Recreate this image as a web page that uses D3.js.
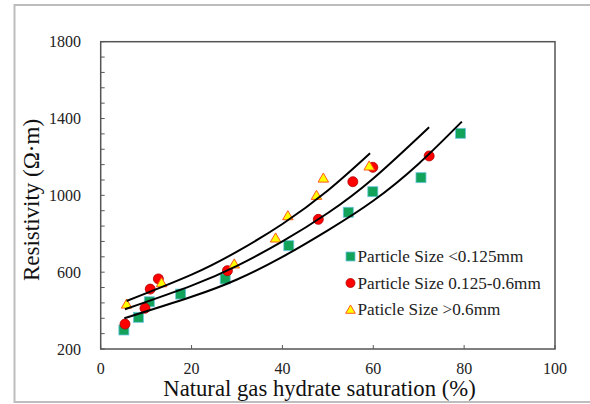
<!DOCTYPE html>
<html><head><meta charset="utf-8">
<script src="https://cdn.jsdelivr.net/npm/d3@7/dist/d3.min.js"></script>
<style>body{margin:0;background:#fff;}text{font-family:"Liberation Serif","Times New Roman","DejaVu Serif",serif;}</style>
</head><body>
<svg id="c" width="590" height="404"></svg>
<script>
// ---- data ----
const seriesNames = ["Particle Size <0.125mm", "Particle Size 0.125-0.6mm", "Paticle Size >0.6mm"];
const fineX   = [5.1, 8.3, 10.7, 17.6, 27.4, 41.4, 54.5, 59.9, 70.5, 79.2];
const fineY   = [299, 365, 446, 486, 565, 738, 912, 1019, 1092, 1323];
const mediumX = [5.35, 9.75, 10.9, 12.7, 27.9, 47.9, 55.5, 59.9, 72.3];
const mediumY = [330, 412, 512, 565, 608, 875, 1071, 1146, 1205];
const coarseX = [5.7, 13.4, 29.4, 38.5, 41.2, 47.5, 49.0, 59.1];
const coarseY = [434, 545, 643, 778, 894, 1000, 1090, 1153];
// trend lines, points
const trendFineX   = [5.2, 20, 30, 40, 50, 60, 70, 79.5];
const trendFineY   = [360, 472, 562, 680, 818, 972, 1165, 1384];
const trendMediumX = [5.35, 20, 30, 40, 50, 60, 72.3];
const trendMediumY = [407, 530, 633, 760, 908, 1088, 1355];
const trendCoarseX = [5.7, 20, 30, 40, 50, 59.3];
const trendCoarseY = [450, 587, 707, 851, 1025, 1219];
const xTicks = [0, 20, 40, 60, 80, 100];
const yTicks = [200, 600, 1000, 1400, 1800];
const yMinorStep = 80;
const xTitle = "Natural gas hydrate saturation (%)";
const yTitle = "Resistivity (\u03A9\u00B7m)";

// ---- layout ----
const FONT = "'Liberation Serif','Times New Roman','DejaVu Serif',serif";
const svg = d3.select("#c");
const L = 100.7, R = 555, T = 41.7, B = 349;
const x = d3.scaleLinear().domain([0, 100]).range([L, R]);
const y = d3.scaleLinear().domain([200, 1800]).range([B, T]);

// outer border
svg.append("rect").attr("x", 14.5).attr("y", 5).attr("width", 590).attr("height", 397)
  .attr("fill", "none").attr("stroke", "#bdbdbd").attr("stroke-width", 2);

// minor y ticks (inside)
const yMinor = d3.range(200, 1800 + 1, yMinorStep);
svg.append("g").selectAll("line").data(yMinor).join("line")
  .attr("x1", L).attr("x2", L + 4).attr("y1", d => y(d)).attr("y2", d => y(d))
  .attr("stroke", "#595959").attr("stroke-width", 1);
// x ticks (inside)
svg.append("g").selectAll("line").data(xTicks).join("line")
  .attr("x1", d => x(d)).attr("x2", d => x(d)).attr("y1", B).attr("y2", B - 4)
  .attr("stroke", "#595959").attr("stroke-width", 1);

// plot frame
svg.append("rect").attr("x", L).attr("y", T).attr("width", R - L).attr("height", B - T)
  .attr("fill", "none").attr("stroke", "#555").attr("stroke-width", 1.5);

// tick labels
svg.append("g").selectAll("text").data(yTicks).join("text")
  .attr("font-family", FONT)
  .attr("x", 81).attr("y", d => y(d)).attr("dy", "0.35em").attr("text-anchor", "end")
  .attr("font-size", 16).attr("fill", "#222").text(d => d);
svg.append("g").selectAll("text").data(xTicks).join("text")
  .attr("font-family", FONT)
  .attr("x", d => x(d)).attr("y", 374).attr("text-anchor", "middle")
  .attr("font-size", 16).attr("fill", "#222").text(d => d);

// axis titles
svg.append("text").attr("font-family", FONT).attr("x", (163 + 476) / 2).attr("y", 396).attr("text-anchor", "middle")
  .attr("font-size", 22.7).attr("fill", "#111").text(xTitle);
svg.append("text").attr("font-family", FONT).attr("transform", "translate(39,200) rotate(-90)").attr("text-anchor", "middle")
  .attr("font-size", 23).attr("fill", "#111").text(yTitle);

// markers
const sq = 10;
const tri = d3.symbol().type(d3.symbolTriangle).size(48);
const g = svg.append("g");
g.selectAll("rect.f").data(d3.zip(fineX, fineY)).join("rect").attr("class", "f")
  .attr("x", d => x(d[0]) - sq / 2).attr("y", d => y(d[1]) - sq / 2).attr("width", sq).attr("height", sq)
  .attr("fill", "#12a25a").attr("stroke", "#6cc6e0").attr("stroke-width", 0.8);
g.selectAll("circle.m").data(d3.zip(mediumX, mediumY)).join("circle").attr("class", "m")
  .attr("cx", d => x(d[0])).attr("cy", d => y(d[1])).attr("r", 5)
  .attr("fill", "#ff0000").attr("stroke", "#b00000").attr("stroke-width", 0.8);
g.selectAll("path.c").data(d3.zip(coarseX, coarseY)).join("path").attr("class", "c")
  .attr("transform", d => `translate(${x(d[0])},${y(d[1]) + 1})`).attr("d", tri)
  .attr("fill", "#ffff00").attr("stroke", "#ff5a1e").attr("stroke-width", 1);

// trend lines
const line = d3.line().x(d => x(d[0])).y(d => y(d[1])).curve(d3.curveNatural);
[[trendFineX, trendFineY], [trendMediumX, trendMediumY], [trendCoarseX, trendCoarseY]].forEach(([xs, ys]) => {
  svg.append("path").attr("d", line(d3.zip(xs, ys))).attr("fill", "none")
    .attr("stroke", "#000").attr("stroke-width", 2);
});

// legend
const lg = svg.append("g");
const rows = [256.5, 283, 309.5];
lg.append("rect").attr("x", 346).attr("y", rows[0] - 4.5).attr("width", 9).attr("height", 9)
  .attr("fill", "#12a25a").attr("stroke", "#6cc6e0").attr("stroke-width", 0.8);
lg.append("circle").attr("cx", 350.5).attr("cy", rows[1]).attr("r", 4.5)
  .attr("fill", "#ff0000").attr("stroke", "#b00000").attr("stroke-width", 0.8);
lg.append("path").attr("transform", `translate(350.5,${rows[2] + 1})`).attr("d", d3.symbol().type(d3.symbolTriangle).size(40))
  .attr("fill", "#ffff00").attr("stroke", "#ff5a1e").attr("stroke-width", 1);
lg.selectAll("text").data(seriesNames).join("text")
  .attr("font-family", FONT)
  .attr("x", 357.5).attr("y", (d, i) => rows[i]).attr("dy", "0.33em")
  .attr("font-size", 17.2).attr("fill", "#222").text(d => d);
</script>
</body></html>
